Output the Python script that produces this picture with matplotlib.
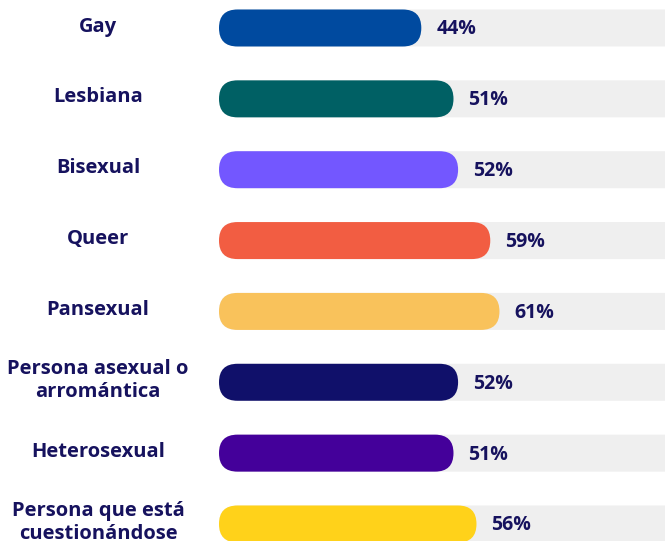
import matplotlib.pyplot as plt
from matplotlib.patches import FancyBboxPatch
from matplotlib.transforms import blended_transform_factory

plt.rcParams['font.family'] = ['Open Sans', 'DejaVu Sans']

labels = ['Gay', 'Lesbiana', 'Bisexual', 'Queer', 'Pansexual',
          'Persona asexual o\narromántica', 'Heterosexual',
          'Persona que está\ncuestionándose']
values = [44, 51, 52, 59, 61, 52, 51, 56]
colors = ['#004A9F', '#006064', '#7357FF', '#F25D42', '#F9C25B',
          '#10106A', '#44009A', '#FFD21A']
track = '#EFEFEF'
navy = '#16125E'

W, H = 665, 541
fig = plt.figure(figsize=(W / 100, H / 100), dpi=100)
ax = fig.add_axes([219 / W, 0, 1 - 219 / W, 1])
ax.set_xlim(0, 97)
ax.set_ylim(7.24, -0.395)
ax.axis('off')

px_x = (W - 219) / 97          # pixels per percent
px_y = H / (7.24 + 0.395)      # pixels per category
bar_h = 37 / px_y
aspect = px_x / px_y
r = 18.5 / px_x

for i, (v, c) in enumerate(zip(values, colors)):
    bg = FancyBboxPatch((0, i - bar_h / 2), 120, bar_h,
                        boxstyle=f"round,pad=0,rounding_size={r}",
                        mutation_aspect=aspect, fc=track, ec='none')
    ax.add_patch(bg)
    p = FancyBboxPatch((0, i - bar_h / 2), v, bar_h,
                       boxstyle=f"round,pad=0,rounding_size={r}",
                       mutation_aspect=aspect, fc=c, ec='none')
    ax.add_patch(p)
    ax.text(v + 15 / px_x, i + 0.02, f'{v}%', ha='left', va='center',
            fontsize=14, fontweight='bold', color=navy)

tr = blended_transform_factory(fig.transFigure, ax.transData)
for i, lab in enumerate(labels):
    ax.text(98 / W, i - 0.02, lab, transform=tr, ha='center', va='center',
            fontsize=14.5, fontweight='bold', color=navy, linespacing=1.2,
            clip_on=False)

fig.savefig('out.png', dpi=100)
